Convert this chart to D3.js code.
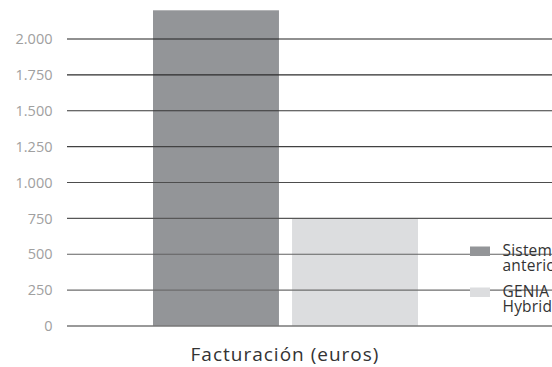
<!DOCTYPE html>
<html>
<head>
<meta charset="utf-8">
<script src="https://cdn.jsdelivr.net/npm/d3@7"></script>
<style>
    body { margin: 0; background: #fff; }
    .axis-label { font-family: "Open Sans", sans-serif; font-size: 14.5px; fill: #a0a0a0; }
    .legend-label { font-family: "Open Sans", sans-serif; font-size: 15.5px; fill: #333; letter-spacing: 0.2px; }
    .chart-title { font-family: "Open Sans", sans-serif; font-size: 19px; fill: #333; letter-spacing: 1px; }
</style>
</head>
<body>
<div id="chart"></div>
<script>
// data
let categories = ["Sistema anterior", "GENIA Hybrid"];
let values = [2200, 750];
let tickValues = [0, 250, 500, 750, 1000, 1250, 1500, 1750, 2000];
let tickLabels = ["0", "250", "500", "750", "1.000", "1.250", "1.500", "1.750", "2.000"];
let legendLines = [["Sistema", "anterior"], ["GENIA", "Hybrid"]];
let colors = ["#939598", "#dcdddf"];

let width = 552, height = 367;

let svg = d3.select("#chart").append("svg")
    .attr("width", width)
    .attr("height", height);

let y = d3.scaleLinear()
    .domain([0, 2000])
    .range([326, 39]);

let x = d3.scaleBand()
    .domain(categories)
    .range([153, 418])
    .paddingInner(0.094)
    .paddingOuter(0);

// bars
svg.selectAll(".bars")
    .data(values)
    .enter().append("rect")
    .attr("class", "bars")
    .attr("x", (d, i) => x(categories[i]))
    .attr("y", d => y(d))
    .attr("width", x.bandwidth())
    .attr("height", d => y(0) - y(d))
    .attr("fill", (d, i) => colors[i]);

// grid lines on top of bars, darker towards the top
let lineColor = d3.scaleLinear().domain([0, 2000]).range(["#777", "#222"]);
svg.selectAll(".grid")
    .data(tickValues)
    .enter().append("line")
    .attr("class", "grid")
    .attr("x1", 67)
    .attr("x2", width)
    .attr("y1", d => y(d))
    .attr("y2", d => y(d))
    .attr("stroke", d => lineColor(d))
    .attr("stroke-width", d => d === 0 ? 1.5 : 1.1);

// tick labels
svg.selectAll(".axis-label")
    .data(tickValues)
    .enter().append("text")
    .attr("class", "axis-label")
    .attr("x", 52.5)
    .attr("y", d => y(d))
    .attr("dy", "0.36em")
    .attr("text-anchor", "end")
    .text((d, i) => tickLabels[i]);

// legend
let legend = svg.selectAll(".legend")
    .data(legendLines)
    .enter().append("g")
    .attr("class", "legend")
    .attr("transform", (d, i) => "translate(470," + (246.5 + i * 41) + ")");

legend.append("rect")
    .attr("width", 20)
    .attr("height", 9.5)
    .attr("fill", (d, i) => colors[i]);

legend.each(function(d) {
    let t = d3.select(this).append("text")
        .attr("class", "legend-label")
        .attr("y", 9);
    t.append("tspan").attr("x", 32.5).text(d[0]);
    t.append("tspan").attr("x", 32.5).attr("dy", 15.5).text(d[1]);
});

// title
svg.append("text")
    .attr("class", "chart-title")
    .attr("x", 285)
    .attr("y", 361)
    .attr("text-anchor", "middle")
    .text("Facturación (euros)");
</script>
</body>
</html>
